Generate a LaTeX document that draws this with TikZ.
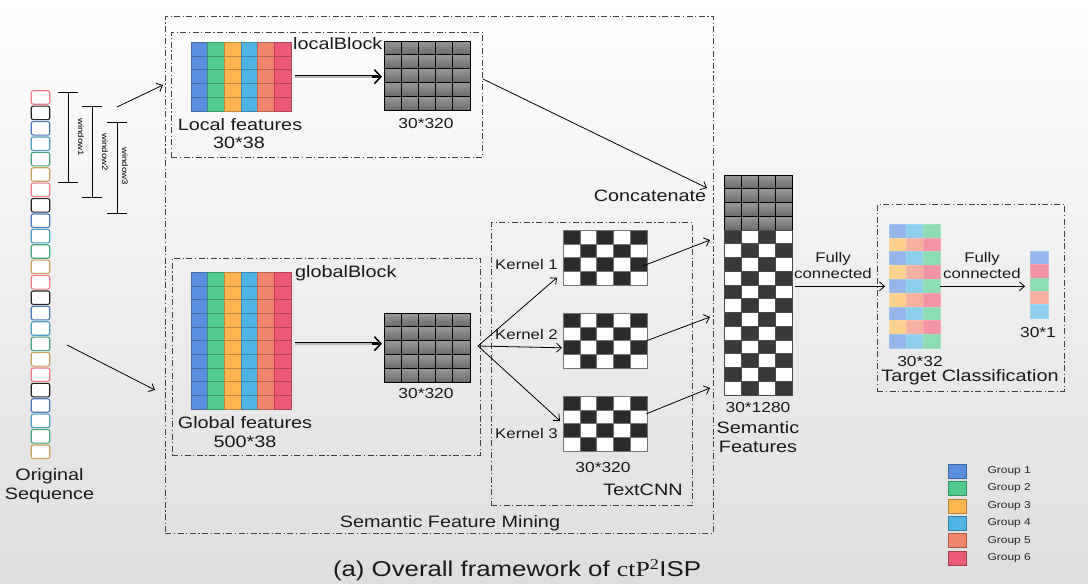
\documentclass[tikz,border=0pt]{standalone}
\usepackage{fontspec}
\setmainfont[FakeStretch=1.2]{Liberation Sans}
\newfontfamily\capserif[FakeStretch=1.2]{Liberation Serif}
\usepackage{xcolor}
\usetikzlibrary{positioning,arrows.meta,calc}

\definecolor{gA}{HTML}{5B8FE0}
\definecolor{gB}{HTML}{4FC98C}
\definecolor{gC}{HTML}{FDB64F}
\definecolor{gD}{HTML}{4FB4E3}
\definecolor{gE}{HTML}{F0856B}
\definecolor{gF}{HTML}{EC5B75}
\definecolor{sqP}{HTML}{F07A8C}
\definecolor{sqK}{HTML}{222222}
\definecolor{sqB}{HTML}{4A78BF}
\definecolor{sqL}{HTML}{4A9FC0}
\definecolor{sqG}{HTML}{45A57A}
\definecolor{sqT}{HTML}{C9A25A}
\definecolor{ckD}{HTML}{2B2B2B}
\definecolor{smD}{HTML}{3A3A3A}

\begin{document}
\begin{tikzpicture}[x=1pt,y=-1pt]
%\node (dbg) at (0,0) {x};

\tikzset{dashbox/.style={draw=black!75,line width=0.9pt,dash pattern=on 6pt off 2.5pt on 1.2pt off 2.5pt,inner sep=0,anchor=north west},
  lbl/.style={font=\fontsize{16.5}{19}\selectfont,text=black!90,inner sep=0},
  dimlbl/.style={font=\fontsize{14.5}{17}\selectfont,text=black!90,inner sep=0},
  kern/.style={font=\fontsize{14}{16}\selectfont,text=black!90,inner sep=0},
  winlbl/.style={font=\fontsize{8}{9}\selectfont,rotate=-90,inner sep=0},
  conn/.style={line width=0.8pt,-{Straight Barb[length=5pt,width=9pt]}},
  winbar/.style={line width=0.8pt,{Bar[width=20pt]}-{Bar[width=20pt]}},
  dbl/.style={double=gray!55,double distance=2pt,line width=0.6pt},
  fattip/.style={line width=1.6pt,-{Straight Barb[length=6.5pt,width=14pt]}},
  seqbox/.style={draw=#1,fill=white,line width=1.1pt,rounded corners=2pt,minimum width=18.5pt,minimum height=13.5pt,inner sep=0},
  grid/.style={inner sep=0,anchor=north west},
  graycell/.style={top color=black!40,bottom color=black!58,draw=black,line width=0.7pt},
  featcell/.style={fill=#1,draw=#1!75!black,line width=0.4pt},
  legsq/.style={minimum width=18pt,minimum height=14pt,inner sep=0,line width=0.6pt},
  leglbl/.style={font=\fontsize{10}{12}\selectfont,text=black!85,inner sep=0,anchor=west}}

\shade[top color=white,bottom color=black!13] (0,0) rectangle (1088,584);
\useasboundingbox (0,0) rectangle (1088,584);

% original sequence
\foreach \r in {0,...,3}
  \foreach \c [count=\j] in {sqP,sqK,sqB,sqL,sqG,sqT}
    \node[seqbox=\c] (s\r\j) at (40.5,{97.5+(\r*6+\j-1)*15.4}) {};
\node[lbl,align=center] (orig) at (49.5,486) {Original\\Sequence};

\coordinate (w1t) at (68,92);  \coordinate (w1b) at (68,183);
\coordinate (w2t) at (92,106); \coordinate (w2b) at (92,198);
\coordinate (w3t) at (117,122); \coordinate (w3b) at (117,214);
\draw[winbar] (w1t) -- (w1b);
\draw[winbar] (w2t) -- (w2b);
\draw[winbar] (w3t) -- (w3b);
\node[winlbl] (w1l) at (81,137) {window1};
\node[winlbl] (w2l) at (105,152) {window2};
\node[winlbl] (w3l) at (125,166) {window3};

% semantic feature mining
\node[dashbox,minimum width=548pt,minimum height=517pt] (sfm) at (165,16) {};
\node[lbl] (sfmT) at (450,523) {Semantic Feature Mining};

\coordinate (sq1) at (117,107); \coordinate (in1) at (163,85);
\coordinate (sq2) at (67,345);  \coordinate (in2) at (155,390);
\draw[conn] (sq1) -- (in1);
\draw[conn] (sq2) -- (in2);

% localBlock
\node[dashbox,minimum width=311pt,minimum height=125pt] (lblk) at (171,32) {};
\node[lbl,anchor=west] (lblkT) at (293,44) {localBlock};
\foreach \c [count=\i from 0] in {gA,gB,gC,gD,gE,gF}
  \foreach \r in {0,...,4}
    \draw[featcell=\c] ({191+\i*16.67},{42+\r*13.8}) rectangle +(16.67,13.8);
\node[grid,minimum width=100pt,minimum height=69pt] (locF) at (191,42) {};
\foreach \i in {0,...,4}
  \foreach \r in {0,...,4}
    \draw[graycell] ({384+\i*17.2},{41+\r*13.8}) rectangle +(17.2,13.8);
\node[grid,minimum width=86pt,minimum height=69pt] (locG) at (384,41) {};
\node[lbl] (locT) at (240,125) {Local features};
\node[lbl] (locD) at (239,143) {30*38};
\node[dimlbl] (locGD) at (426,124) {30*320};
\draw[dbl,shorten <=4pt,shorten >=6pt] (locF.east) -- (locF.east -| locG.west);
\draw[fattip,shorten >=2pt] ([xshift=-12pt]locF.east -| locG.west) -- (locF.east -| locG.west);

% globalBlock
\node[dashbox,minimum width=308pt,minimum height=197pt] (gblk) at (172,258) {};
\node[lbl,anchor=west] (gblkT) at (295,273) {globalBlock};
\foreach \c [count=\i from 0] in {gA,gB,gC,gD,gE,gF}
  \foreach \r in {0,...,9}
    \draw[featcell=\c] ({191+\i*16.67},{272+\r*13.7}) rectangle +(16.67,13.7);
\node[grid,minimum width=100pt,minimum height=137pt] (gloF) at (191,272) {};
\foreach \i in {0,...,4}
  \foreach \r in {0,...,4}
    \draw[graycell] ({384+\i*17.2},{313+\r*13.8}) rectangle +(17.2,13.8);
\node[grid,minimum width=86pt,minimum height=69pt] (gloG) at (384,313) {};
\node[lbl] (gloT) at (245,423) {Global features};
\node[lbl] (gloD) at (245,442) {500*38};
\node[dimlbl] (gloGD) at (426,394) {30*320};
\coordinate (gA1) at ([yshift=-3pt]gloF.east);
\draw[dbl,shorten <=4pt,shorten >=6pt] (gA1) -- (gA1 -| gloG.west);
\draw[fattip,shorten >=2pt] ([xshift=-12pt]gA1 -| gloG.west) -- (gA1 -| gloG.west);

% TextCNN
\node[dashbox,minimum width=201pt,minimum height=283pt] (tcnn) at (491,222) {};
\foreach \y [count=\k] in {230,313,396} {
  \foreach \i in {0,...,4}
    \foreach \r in {0,...,3} {
      \pgfmathtruncatemacro\p{mod(\i+\r,2)}
      \ifnum\p=0 \def\cc{ckD}\else\def\cc{white}\fi
      \draw[fill=\cc,draw=black!55,line width=0.5pt] ({563+\i*16.8},{\y+\r*13.8}) rectangle +(16.8,13.8);
    }
  \node[grid,minimum width=84pt,minimum height=55.2pt] (k\k) at (563,\y) {};
}
\node[kern,anchor=east] (k1T) at (558,264) {Kernel 1};
\node[kern,anchor=east] (k2T) at (558,334) {Kernel 2};
\node[kern,anchor=east] (k3T) at (558,433) {Kernel 3};
\node[dimlbl] (kD) at (603,468) {30*320};
\node[lbl] (tcnnT) at (643,490) {TextCNN};

\coordinate (fan) at (478,346);
\draw[conn] (fan) -- ([xshift=-6pt,yshift=8pt]k1.south west);
\draw[conn] (fan) -- ([xshift=-1pt,yshift=-7pt]k2.west);
\draw[conn] (fan) -- ([xshift=-3pt,yshift=3pt]k3.west);

% concatenate
\node[lbl] (catT) at (650,196) {Concatenate};
\coordinate (cat0) at (707,188);
\coordinate (cat1) at (710,240);
\coordinate (cat2) at (710,317);
\coordinate (cat3) at (710,388);
\draw[conn] ([yshift=16pt]lblk.east) -- (cat0);
\draw[conn] ([xshift=-4pt,yshift=-8pt]k1.east) -- (cat1);
\draw[conn] ([xshift=-1pt,yshift=0pt]k2.east) -- (cat2);
\draw[conn] ([xshift=-1pt,yshift=10pt]k3.east) -- (cat3);

% semantic features
\foreach \i in {0,...,3} {
  \foreach \r in {0,...,3}
    \draw[graycell] ({724+\i*17},{175+\r*13.75}) rectangle +(17,13.75);
  \foreach \r in {4,...,15} {
    \pgfmathtruncatemacro\p{mod(\i+\r,2)}
    \ifnum\p=0 \def\cc{smD}\else\def\cc{white}\fi
    \draw[fill=\cc,draw=black!70,line width=0.6pt] ({724+\i*17},{175+\r*13.75}) rectangle +(17,13.75);
  }
}
\node[grid,minimum width=68pt,minimum height=220pt] (sem) at (724,175) {};
\node[dimlbl] (semD) at (758,408) {30*1280};
\node[lbl,align=center] (semT) at (758,437.5) {Semantic\\Features};

% target classification
\node[dashbox,minimum width=187pt,minimum height=187pt] (tgt) at (877,204) {};
\foreach \r in {0,...,8} {
  \pgfmathtruncatemacro\p{mod(\r,2)}
  \ifnum\p=0
    \foreach \c [count=\i from 0] in {gA,gD,gB}
      \draw[fill=\c!65!white,draw=\c!55!white,line width=0.5pt] ({889+\i*17},{224+\r*13.8}) rectangle +(17,13.8);
  \else
    \foreach \c [count=\i from 0] in {gC,gE,gF}
      \draw[fill=\c!65!white,draw=\c!55!white,line width=0.5pt] ({889+\i*17},{224+\r*13.8}) rectangle +(17,13.8);
  \fi
}
\node[grid,minimum width=51pt,minimum height=124.2pt] (tgtM) at (889,224) {};
\foreach \c [count=\r from 0] in {gA,gF,gB,gE,gD}
  \draw[fill=\c!65!white,draw=\c!55!white,line width=0.5pt] (1030,{251+\r*13.4}) rectangle +(18,13.4);
\node[grid,minimum width=18pt,minimum height=67pt] (vec) at (1030,251) {};
\node[dimlbl] (tgtD) at (920,362) {30*32};
\node[lbl] (tgtT) at (970,377) {Target Classification};
\node[dimlbl] (vecD) at (1038,333) {30*1};

\draw[conn,shorten <=3pt,shorten >=4pt] (sem.east |- tgtM.west) -- (tgtM.west);
\node[kern,align=center] (fc1) at (833,265) {Fully\\connected};
\draw[conn,shorten >=5pt] (tgtM.east) -- (tgtM.east -| vec.west);
\node[kern,align=center] (fc2) at (982,265) {Fully\\connected};

% legend
\foreach \c [count=\i] in {gA,gB,gC,gD,gE,gF} {
  \node[legsq,fill=\c,draw=\c!70!black] (leg\i) at (957,{471+(\i-1)*17.4}) {};
  \node[leglbl,right=21pt of leg\i] (legT\i) {Group \i};
}

\node[font=\fontsize{21.5}{24}\selectfont,text=black!90,inner sep=0] (cap) at (517,570) {(a) Overall framework of {\capserif ctP\textsuperscript{2}}ISP};
\end{tikzpicture}
\end{document}
